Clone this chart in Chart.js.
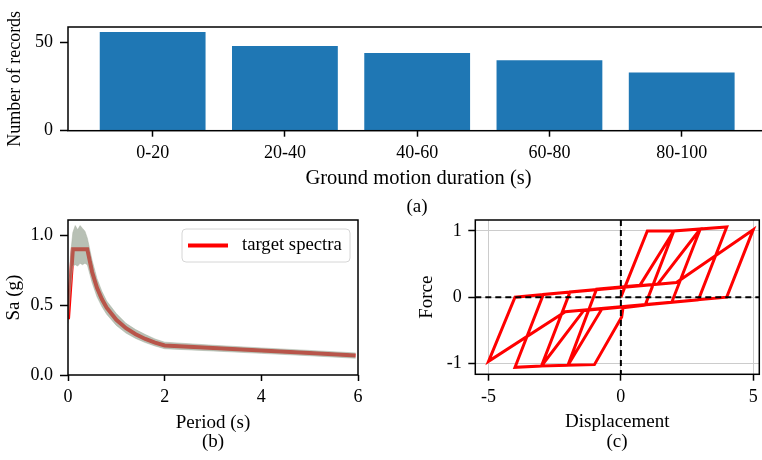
<!DOCTYPE html>
<html>
<head>
<meta charset="utf-8">
<script src="https://cdn.jsdelivr.net/npm/chart.js@4.4.1/dist/chart.umd.min.js"></script>
<style>
  html, body { margin: 0; padding: 0; background: #fff; }
  body { width: 762px; height: 460px; position: relative; overflow: hidden; font-family: 'Liberation Serif', serif; }
  .box { position: absolute; }
  .cap { position: absolute; font-size: 19px; color: #000; transform: translate(-50%, -50%); white-space: nowrap; }
</style>
</head>
<body>
<div class="box" style="left:0;top:0;width:780px;height:210px"><canvas id="barChart"></canvas></div>
<div class="box" style="left:0;top:210px;width:380px;height:250px"><canvas id="spectraChart"></canvas></div>
<div class="box" style="left:380px;top:210px;width:382px;height:250px"><canvas id="hystChart"></canvas></div>
<div class="cap" style="left:417px;top:206px">(a)</div>
<div class="cap" style="left:213px;top:441px">(b)</div>
<div class="cap" style="left:617px;top:441px">(c)</div>
<script>
// (a) record counts per duration bin
const durationBins = ['0-20', '20-40', '40-60', '60-80', '80-100'];
const recordCounts = [56, 48, 44, 40, 33];
const countTicks = [0, 50];

// (b) target spectrum and the envelope of the matched record spectra
const targetPeriod = [0, 0.1, 0.4, 0.5, 0.6, 0.7, 0.8, 1.0, 1.2, 1.4, 1.6, 1.8, 2.0, 3.0, 4.0, 5.0, 5.95];
const targetSa = [0.40, 0.90, 0.90, 0.736, 0.625, 0.544, 0.482, 0.395, 0.335, 0.292, 0.258, 0.232, 0.211, 0.193, 0.175, 0.157, 0.140];
const bandPeriod = [0, 0.05, 0.1, 0.15, 0.2, 0.25, 0.3, 0.35, 0.4, 0.5, 0.6, 0.7, 0.8, 1.0, 1.2, 1.4, 1.6, 1.8, 2.0, 3.0, 4.0, 5.0, 5.95];
const bandUpper = [0.43, 0.85, 1.02, 1.07, 1.04, 1.07, 1.05, 1.03, 0.98, 0.82, 0.69, 0.60, 0.53, 0.44, 0.37, 0.325, 0.29, 0.258, 0.235, 0.213, 0.194, 0.176, 0.158];
const bandLower = [0.37, 0.60, 0.78, 0.79, 0.78, 0.80, 0.79, 0.80, 0.79, 0.66, 0.56, 0.49, 0.435, 0.355, 0.30, 0.262, 0.232, 0.208, 0.188, 0.172, 0.155, 0.138, 0.12];
const periodTicks = [0, 2, 4, 6];
const saTicks = [0, 0.5, 1.0];

// (c) hysteresis loop, in load order
const hystDisp = [0, 1.0, 2.0, 0.92, 0.08, 0.03, -1.0, -2.0, -0.92, 0.72, 2.0, 3.0, 1.92, -0.72, -2.0, -3.0, -1.92, 1.4, 3.0, 4.0, 2.93, -1.4, -3.0, -4.0, -2.93, 2.1, 5.0, 4.0, -2.1, -5.0, -4.0, 0.0];
const hystForce = [0, 1.0, 1.0, -0.12, -0.16, -0.30, -1.02, -1.03, 0.12, 0.18, 1.0, 1.03, -0.08, -0.18, -1.03, -1.04, 0.08, 0.20, 1.03, 1.06, -0.04, -0.20, -1.04, -1.06, 0.04, 0.22, 1.02, 0.0, -0.22, -0.97, 0.0, 0.15];
const dispTicks = [-5, 0, 5];
const forceTicks = [-1, 0, 1];

Chart.defaults.font.family = "'Liberation Serif', serif";
Chart.defaults.font.size = 18;
Chart.defaults.color = '#000';
Chart.defaults.animation = false;

const black = '#000';
const fixedTicks = values => scale => { scale.ticks = values.map(v => ({ value: v })); };
const toPoints = (xs, ys) => xs.map((x, i) => ({ x: x, y: ys[i] }));

// matplotlib-like box around the axes
const framePlugin = {
    id: 'frame',
    afterDatasetsDraw(chart) {
        const { ctx, chartArea: a } = chart;
        ctx.save();
        ctx.strokeStyle = black;
        ctx.lineWidth = 1.5;
        ctx.strokeRect(a.left, a.top, a.right - a.left, a.bottom - a.top);
        ctx.restore();
    }
};

function xAxis(opts) {
    return {
        type: 'linear',
        min: opts.min,
        max: opts.max,
        offset: false,
        afterBuildTicks: fixedTicks(opts.ticks),
        ticks: { padding: opts.pad, maxRotation: 0, autoSkip: false, callback: opts.fmt || (v => String(v)) },
        grid: {
            offset: false,
            drawOnChartArea: !!opts.gridColor,
            color: opts.gridColor || 'rgba(0,0,0,0)',
            tickLength: opts.tick,
            tickColor: black,
            tickWidth: 1.5
        },
        border: { display: false },
        title: { display: true, text: opts.title, font: { size: opts.titleSize }, padding: { top: 0, bottom: 0 } },
        afterFit: s => { s.height = opts.size; s.paddingLeft = 0; s.paddingRight = 0; }
    };
}

function yAxis(opts) {
    return {
        type: 'linear',
        min: opts.min,
        max: opts.max,
        afterBuildTicks: fixedTicks(opts.ticks),
        ticks: { padding: opts.pad, callback: opts.fmt || (v => String(v)) },
        grid: {
            drawOnChartArea: !!opts.gridColor,
            color: opts.gridColor || 'rgba(0,0,0,0)',
            tickLength: opts.tick,
            tickColor: black,
            tickWidth: 1.5
        },
        border: { display: false },
        title: { display: true, text: opts.title, font: { size: opts.titleSize }, padding: { top: opts.titlePad, bottom: 0 } },
        afterFit: s => { s.width = opts.size; s.paddingTop = 0; s.paddingBottom = 0; }
    };
}

// (a)
new Chart(document.getElementById('barChart'), {
    type: 'bar',
    data: {
        datasets: [{
            data: toPoints(durationBins.map((_, i) => i), recordCounts),
            backgroundColor: '#1f77b4',
            borderWidth: 0,
            barPercentage: 0.8,
            categoryPercentage: 1.0
        }]
    },
    options: {
        responsive: true,
        maintainAspectRatio: false,
        layout: { padding: { top: 27, right: 11, bottom: 18.7, left: 0 } },
        plugins: { legend: { display: false }, tooltip: { enabled: false } },
        scales: {
            x: xAxis({ min: -0.64, max: 4.66, ticks: durationBins.map((_, i) => i), fmt: v => durationBins[v], pad: 5.5, tick: 6, title: 'Ground motion duration (s)', titleSize: 20.5, size: 60.6 }),
            y: yAxis({ min: 0, max: 58.8, ticks: countTicks, pad: 7, tick: 8, title: 'Number of records', titleSize: 18, titlePad: 4.2, size: 68 })
        }
    },
    plugins: [framePlugin]
});

// (b)
const legendPlugin = {
    id: 'innerLegend',
    afterDraw(chart) {
        const ds = chart.data.datasets.find(d => d.label);
        const { ctx, chartArea: a } = chart;
        const w = 168, h = 33;
        const x = a.right - 8 - w, y = a.top + 9;
        ctx.save();
        ctx.beginPath();
        ctx.roundRect(x, y, w, h, 4);
        ctx.fillStyle = 'rgba(255,255,255,0.8)';
        ctx.fill();
        ctx.strokeStyle = '#d6d6d6';
        ctx.lineWidth = 1;
        ctx.stroke();
        ctx.beginPath();
        ctx.moveTo(x + 6, y + h / 2);
        ctx.lineTo(x + 46, y + h / 2);
        ctx.strokeStyle = ds.borderColor;
        ctx.lineWidth = ds.borderWidth;
        ctx.stroke();
        ctx.fillStyle = black;
        ctx.font = "18.7px 'Liberation Serif', serif";
        ctx.textBaseline = 'middle';
        ctx.fillText(ds.label, x + 60, y + h / 2);
        ctx.restore();
    }
};

new Chart(document.getElementById('spectraChart'), {
    type: 'scatter',
    data: {
        datasets: [
            {
                data: toPoints(bandPeriod, bandLower),
                showLine: true, borderWidth: 1, borderColor: 'rgba(165,175,160,0.5)', pointRadius: 0, fill: false
            },
            {
                data: toPoints(bandPeriod, bandUpper),
                showLine: true, borderWidth: 1, borderColor: 'rgba(165,175,160,0.5)', pointRadius: 0,
                fill: '-1', backgroundColor: 'rgba(132,146,128,0.58)'
            },
            {
                label: 'target spectra',
                data: toPoints(targetPeriod, targetSa),
                showLine: true, borderWidth: 4, borderColor: '#ff0000', pointRadius: 0, fill: false
            }
        ]
    },
    options: {
        responsive: true,
        maintainAspectRatio: false,
        layout: { padding: { top: 10, right: 22, bottom: 25.6, left: 0 } },
        plugins: { legend: { display: false }, tooltip: { enabled: false } },
        scales: {
            x: xAxis({ min: 0, max: 6, ticks: periodTicks, pad: 5.2, tick: 6, title: 'Period (s)', titleSize: 19, size: 59.4 }),
            y: yAxis({ min: 0, max: 1.11, ticks: saTicks, fmt: v => v.toFixed(1), pad: 7, tick: 8, title: 'Sa (g)', titleSize: 19, titlePad: 2.6, size: 68 })
        }
    },
    plugins: [framePlugin, legendPlugin]
});

// (c)
const zeroLinesPlugin = {
    id: 'zeroLines',
    afterDatasetsDraw(chart) {
        const { ctx, chartArea: a, scales } = chart;
        const x0 = scales.x.getPixelForValue(0);
        const y0 = scales.y.getPixelForValue(0);
        ctx.save();
        ctx.strokeStyle = black;
        ctx.lineWidth = 2;
        ctx.setLineDash([6, 4]);
        ctx.beginPath();
        ctx.moveTo(a.left, y0); ctx.lineTo(a.right, y0);
        ctx.moveTo(x0, a.top); ctx.lineTo(x0, a.bottom);
        ctx.stroke();
        ctx.restore();
    }
};

new Chart(document.getElementById('hystChart'), {
    type: 'scatter',
    data: {
        datasets: [{
            data: toPoints(hystDisp, hystForce),
            showLine: true, borderWidth: 3, borderColor: '#ff0000', pointRadius: 0, fill: false,
            borderJoinStyle: 'miter'
        }]
    },
    options: {
        responsive: true,
        maintainAspectRatio: false,
        layout: { padding: { top: 10, right: 2.7, bottom: 26.6, left: 0 } },
        plugins: { legend: { display: false }, tooltip: { enabled: false } },
        scales: {
            x: xAxis({ min: -5.5, max: 5.23, ticks: dispTicks, pad: 6, tick: 6.4, title: 'Displacement', titleSize: 19, size: 59.1, gridColor: '#cccccc' }),
            y: yAxis({ min: -1.166, max: 1.166, ticks: forceTicks, pad: 6.6, tick: 7, title: 'Force', titleSize: 19, titlePad: 35.6, size: 95.3, gridColor: '#cccccc' })
        }
    },
    plugins: [zeroLinesPlugin, framePlugin]
});
</script>
</body>
</html>
